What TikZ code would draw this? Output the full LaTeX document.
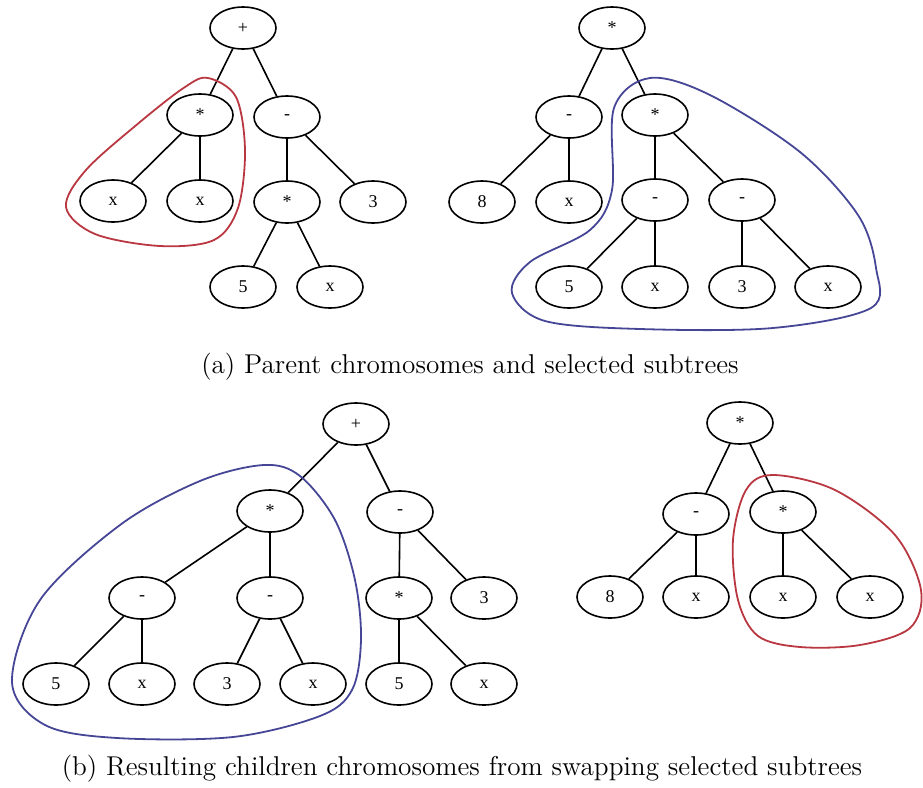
\documentclass[tikz,border=0pt]{standalone}
\usepackage{fontspec}
\newfontfamily\nodefont{Liberation Serif}
\usetikzlibrary{shapes.geometric}
\definecolor{loopred}{RGB}{185,55,65}
\definecolor{loopblue}{RGB}{70,70,150}
\tikzset{
  gpnode/.style={draw, ellipse, line width=0.8pt, minimum width=33pt, minimum height=21pt,
    inner sep=0pt, font=\nodefont\fontsize{9}{10}\selectfont},
  gpedge/.style={line width=0.8pt},
  selred/.style={draw=loopred, line width=0.9pt},
  selblue/.style={draw=loopblue, line width=0.9pt},
  caption/.style={anchor=base, font=\fontsize{13.6}{16}\selectfont}
}
\begin{document}
\begin{tikzpicture}[x=0.5pt, y=-0.5pt]
\useasboundingbox (0,0) rectangle (923,788);

% ---- parent 1: (x*x) + ((5*x) - 3)
\node[gpnode] (A1) at (243,28) {+};
\node[gpnode] (A2) at (200,115) {*};
\node[gpnode] (A3) at (287,117) {-};
\node[gpnode] (A4) at (113,201) {x};
\node[gpnode] (A5) at (200,201) {x};
\node[gpnode] (A6) at (287,202) {*};
\node[gpnode] (A7) at (373,202) {3};
\node[gpnode] (A8) at (243,287) {5};
\node[gpnode] (A9) at (330,287) {x};
\foreach \a/\b in {A1/A2,A1/A3,A2/A4,A2/A5,A3/A6,A3/A7,A6/A8,A6/A9}
  \draw[gpedge] (\a) -- (\b);

% ---- parent 2: (8 - x) * ((5 - x) * (3 - x))
\node[gpnode] (B1) at (612,28) {*};
\node[gpnode] (B2) at (569,117) {-};
\node[gpnode] (B3) at (655,115) {*};
\node[gpnode] (B4) at (482,202) {8};
\node[gpnode] (B5) at (569,202) {x};
\node[gpnode] (B6) at (655,200) {-};
\node[gpnode] (B7) at (742,200) {-};
\node[gpnode] (B8) at (569,287) {5};
\node[gpnode] (B9) at (655,287) {x};
\node[gpnode] (B10) at (742,287) {3};
\node[gpnode] (B11) at (828,287) {x};
\foreach \a/\b in {B1/B2,B1/B3,B2/B4,B2/B5,B3/B6,B3/B7,B6/B8,B6/B9,B7/B10,B7/B11}
  \draw[gpedge] (\a) -- (\b);

% selected subtrees of the parents
\draw[selred] plot[smooth cycle, tension=0.55] coordinates {
  (208,78) (236,97) (245,150) (238,208) (214,240) (160,246)
  (95,234) (66,207) (86,170) (140,122) (185,87)};
\draw[selblue] plot[smooth cycle, tension=0.55] coordinates {
  (650,78) (710,95) (800,152) (858,215) (876,268) (871,308)
  (773,328) (640,329) (545,321) (512,293) (530,262) (590,230)
  (612,190) (614,108)};

\node[caption] (capa) at (470,373) {(a) Parent chromosomes and selected subtrees};

% ---- child 1: ((5 - x) * (3 - x)) + ((5*x) - 3)
\node[gpnode] (C1) at (356,424) {+};
\node[gpnode] (C2) at (270,511) {*};
\node[gpnode] (C3) at (400,512) {-};
\node[gpnode] (C4) at (142,598) {-};
\node[gpnode] (C5) at (270,598) {-};
\node[gpnode] (C6) at (399,598) {*};
\node[gpnode] (C7) at (484,598) {3};
\node[gpnode] (C8) at (56,684) {5};
\node[gpnode] (C9) at (142,684) {x};
\node[gpnode] (C10) at (227,684) {3};
\node[gpnode] (C11) at (313,684) {x};
\node[gpnode] (C12) at (399,684) {5};
\node[gpnode] (C13) at (484,684) {x};
\foreach \a/\b in {C1/C2,C1/C3,C2/C4,C2/C5,C4/C8,C4/C9,C5/C10,C5/C11,C3/C6,C3/C7,C6/C12,C6/C13}
  \draw[gpedge] (\a) -- (\b);

% ---- child 2: (8 - x) * (x*x)
\node[gpnode] (D1) at (740,423) {*};
\node[gpnode] (D2) at (696,514) {-};
\node[gpnode] (D3) at (783,512) {*};
\node[gpnode] (D4) at (610,597) {8};
\node[gpnode] (D5) at (696,597) {x};
\node[gpnode] (D6) at (783,597) {x};
\node[gpnode] (D7) at (870,597) {x};
\foreach \a/\b in {D1/D2,D1/D3,D2/D4,D2/D5,D3/D6,D3/D7}
  \draw[gpedge] (\a) -- (\b);

% swapped subtrees in the children
\draw[selblue] plot[smooth cycle, tension=0.55] coordinates {
  (264,465) (300,476) (335,520) (355,580) (361,640) (352,690)
  (320,716) (233,737) (117,738) (45,725) (12,682) (40,600)
  (120,525) (200,481)};
\draw[selred] plot[smooth cycle, tension=0.55] coordinates {
  (773,475) (835,490) (895,535) (921,590) (910,628) (860,645)
  (800,647) (758,636) (738,600) (733,540) (746,490)};

\node[caption] (capb) at (462,775) {(b) Resulting children chromosomes from swapping selected subtrees};
\end{tikzpicture}
\end{document}
